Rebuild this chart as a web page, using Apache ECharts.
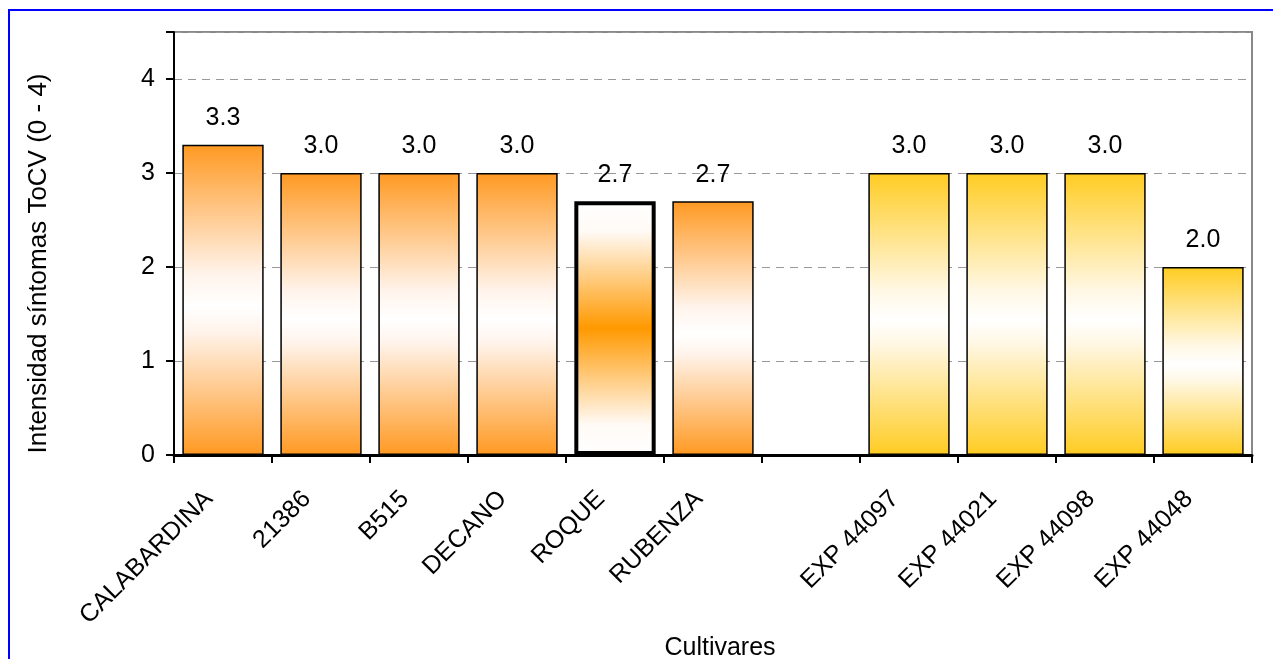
<!DOCTYPE html>
<html>
<head>
<meta charset="utf-8">
<script src="https://cdn.jsdelivr.net/npm/echarts@6/dist/echarts.min.js"></script>
<style>
html,body{margin:0;padding:0;background:#fff;}
#chart{width:1273px;height:659px;}
</style>
</head>
<body>
<div id="chart"></div>
<script>
// Data
var categories = ['CALABARDINA', '21386', 'B515', 'DECANO', 'ROQUE', 'RUBENZA', '', 'EXP 44097', 'EXP 44021', 'EXP 44098', 'EXP 44048'];
var values = [3.3, 3.0, 3.0, 3.0, 2.7, 2.7, null, 3.0, 3.0, 3.0, 2.0];
var groups = ['orange', 'orange', 'orange', 'orange', 'roque', 'orange', 'none', 'yellow', 'yellow', 'yellow', 'yellow'];
var yTicks = [0, 1, 2, 3, 4];

var FONT = "'Liberation Sans', Arial, Helvetica, sans-serif";
var ORANGE = '#FF9922';
var YELLOW = '#FFCC22';

function grad(stops) {
  return new echarts.graphic.LinearGradient(0, 0, 0, 1, stops.map(function (s) {
    return {offset: s[0], color: s[1]};
  }));
}

function styleFor(g) {
  if (g === 'orange') return {color: grad([[0, ORANGE], [0.42, '#FFF4EC'], [0.52, '#FFFFFF'], [0.6, '#FFF4EC'], [1, ORANGE]]), borderColor: '#000', borderWidth: 1.5};
  if (g === 'roque') return {color: grad([[0, '#FFFFFF'], [0.12, '#FFFAF5'], [0.5, '#FF9900'], [0.88, '#FFFAF5'], [1, '#FFFFFF']]), borderColor: '#000', borderWidth: 4};
  if (g === 'yellow') return {color: grad([[0, YELLOW], [0.42, '#FFF8E6'], [0.52, '#FFFFFF'], [0.6, '#FFF8E6'], [1, YELLOW]]), borderColor: '#000', borderWidth: 1.5};
  return {};
}

var seriesData = values.map(function (v, i) {
  return {value: v, itemStyle: styleFor(groups[i])};
});

var chart = echarts.init(document.getElementById('chart'), null, {renderer: 'canvas'});
chart.setOption({
  animation: false,
  backgroundColor: '#fff',
  textStyle: {fontFamily: FONT},
  graphic: [{
    type: 'rect',
    shape: {x: 9, y: 10, width: 1400, height: 800},
    style: {fill: 'none', stroke: '#0000FF', lineWidth: 2},
    silent: true,
    z: -10
  }],
  grid: {
    left: 174, right: 21, top: 32, bottom: 204,
    containLabel: false, outerBoundsMode: 'none',
    show: true, borderColor: '#888', borderWidth: 2, backgroundColor: 'transparent'
  },
  xAxis: {
    type: 'category',
    data: categories,
    name: 'Cultivares',
    nameLocation: 'middle',
    nameGap: 170,
    nameTextStyle: {fontSize: 25, color: '#000', fontFamily: FONT, padding: [0, 0, 0, 14]},
    axisLine: {show: true, lineStyle: {color: '#000', width: 3}},
    axisTick: {show: true, length: 8, lineStyle: {color: '#000', width: 2}},
    axisLabel: {
      interval: 0, rotate: 45, fontSize: 25, color: '#000', fontFamily: FONT,
      margin: 26, padding: [0, 20, 0, 0]
    },
    splitLine: {show: false}
  },
  yAxis: {
    type: 'value',
    min: 0, max: 4.5, interval: 1,
    name: 'Intensidad síntomas ToCV (0 - 4)',
    nameLocation: 'middle',
    nameGap: 122,
    nameTextStyle: {fontSize: 26, color: '#000', fontFamily: FONT, padding: [0, 40, 0, 0]},
    axisLine: {show: true, lineStyle: {color: '#000', width: 2}},
    axisTick: {show: true, length: 8, lineStyle: {color: '#000', width: 2}},
    axisLabel: {
      fontSize: 25, color: '#000', fontFamily: FONT, margin: 19,
      formatter: function (v) { return yTicks.indexOf(v) >= 0 ? String(v) : ''; }
    },
    splitLine: {show: true, lineStyle: {color: '#999', width: 1, type: [8, 6]}}
  },
  series: [{
    type: 'bar',
    data: seriesData,
    barCategoryGap: '17%',
    label: {
      show: true, position: 'top', distance: 14,
      fontSize: 25, color: '#000', fontFamily: FONT,
      formatter: function (p) { return p.value == null ? '' : Number(p.value).toFixed(1); }
    }
  }]
});
</script>
</body>
</html>
